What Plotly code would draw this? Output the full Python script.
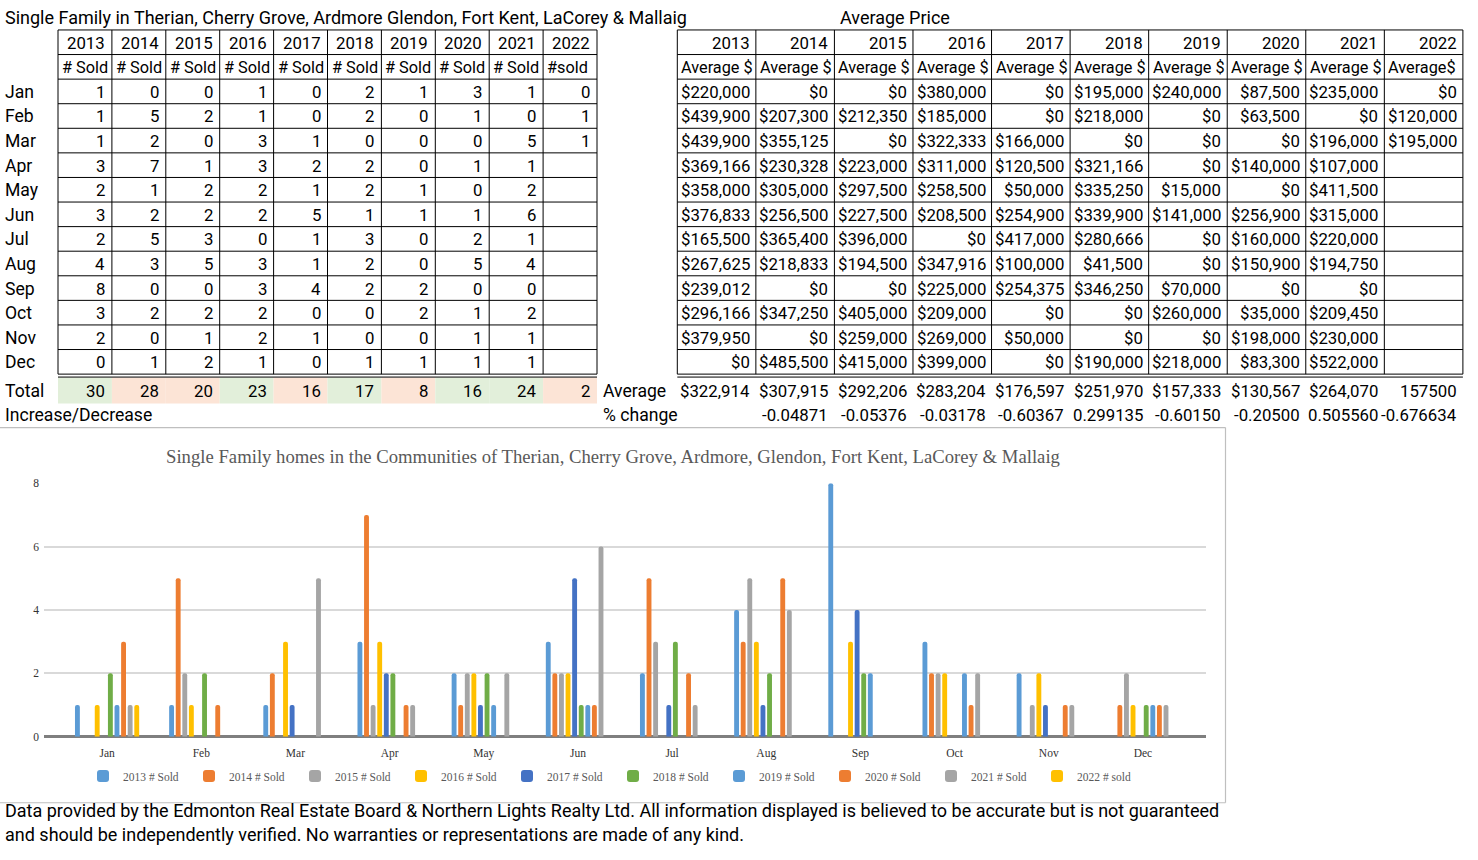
import plotly.graph_objects as go

W, H = 1478, 860

# ---------------- data ----------------
months = ["Jan", "Feb", "Mar", "Apr", "May", "Jun", "Jul", "Aug", "Sep", "Oct", "Nov", "Dec"]
years = ["2013", "2014", "2015", "2016", "2017", "2018", "2019", "2020", "2021", "2022"]

sold_2013 = [1, 1, 1, 3, 2, 3, 2, 4, 8, 3, 2, 0]
sold_2014 = [0, 5, 2, 7, 1, 2, 5, 3, 0, 2, 0, 1]
sold_2015 = [0, 2, 0, 1, 2, 2, 3, 5, 0, 2, 1, 2]
sold_2016 = [1, 1, 3, 3, 2, 2, 0, 3, 3, 2, 2, 1]
sold_2017 = [0, 0, 1, 2, 1, 5, 1, 1, 4, 0, 1, 0]
sold_2018 = [2, 2, 0, 2, 2, 1, 3, 2, 2, 0, 0, 1]
sold_2019 = [1, 0, 0, 0, 1, 1, 0, 0, 2, 2, 0, 1]
sold_2020 = [3, 1, 0, 1, 0, 1, 2, 5, 0, 1, 1, 1]
sold_2021 = [1, 0, 5, 1, 2, 6, 1, 4, 0, 2, 1, 1]
sold_2022 = [0, 1, 1, None, None, None, None, None, None, None, None, None]
# the 2022 series as it is drawn in the chart
chart_sold_2022 = [1, 0, 0, 0, 0, 0, 0, 0, 0, 0, 0, 0]

sold_headers = ["# Sold"] * 9 + ["#sold"]
sold_totals = [30, 28, 20, 23, 16, 17, 8, 16, 24, 2]

price_2013 = [220000, 439900, 439900, 369166, 358000, 376833, 165500, 267625, 239012, 296166, 379950, 0]
price_2014 = [0, 207300, 355125, 230328, 305000, 256500, 365400, 218833, 0, 347250, 0, 485500]
price_2015 = [0, 212350, 0, 223000, 297500, 227500, 396000, 194500, 0, 405000, 259000, 415000]
price_2016 = [380000, 185000, 322333, 311000, 258500, 208500, 0, 347916, 225000, 209000, 269000, 399000]
price_2017 = [0, 0, 166000, 120500, 50000, 254900, 417000, 100000, 254375, 0, 50000, 0]
price_2018 = [195000, 218000, 0, 321166, 335250, 339900, 280666, 41500, 346250, 0, 0, 190000]
price_2019 = [240000, 0, 0, 0, 15000, 141000, 0, 0, 70000, 260000, 0, 218000]
price_2020 = [87500, 63500, 0, 140000, 0, 256900, 160000, 150900, 0, 35000, 198000, 83300]
price_2021 = [235000, 0, 196000, 107000, 411500, 315000, 220000, 194750, 0, 209450, 230000, 522000]
price_2022 = [0, 120000, 195000, None, None, None, None, None, None, None, None, None]

price_headers = ["Average $"] * 9 + ["Average$"]
avg_price_text = ["$322,914", "$307,915", "$292,206", "$283,204", "$176,597",
                  "$251,970", "$157,333", "$130,567", "$264,070", "157500"]
pct_change_text = ["", "-0.04871", "-0.05376", "-0.03178", "-0.60367",
                   "0.299135", "-0.60150", "-0.20500", "0.505560", "-0.676634"]

series_names = ["2013 # Sold", "2014 # Sold", "2015 # Sold", "2016 # Sold", "2017 # Sold",
                "2018 # Sold", "2019 # Sold", "2020 # Sold", "2021 # Sold", "2022 # sold"]

sold_table = [sold_2013, sold_2014, sold_2015, sold_2016, sold_2017,
              sold_2018, sold_2019, sold_2020, sold_2021, sold_2022]
chart_sold = sold_table[:9] + [chart_sold_2022]
price_table = [price_2013, price_2014, price_2015, price_2016, price_2017,
               price_2018, price_2019, price_2020, price_2021, price_2022]

title_top = "Single Family in Therian, Cherry Grove, Ardmore Glendon, Fort Kent, LaCorey & Mallaig"
title_price = "Average Price"
chart_title = ("Single Family homes in the Communities of Therian, Cherry Grove, Ardmore, "
               "Glendon, Fort Kent, LaCorey & Mallaig")
footer_1 = ("Data provided by the Edmonton Real Estate Board & Northern Lights Realty Ltd. "
            "All information displayed is believed to be accurate but is not guaranteed")
footer_2 = "and should be independently verified. No warranties or representations are made of any kind."

# ---------------- style ----------------
colors = ["#5B9BD5", "#ED7D31", "#A5A5A5", "#FFC000", "#4472C4",
          "#70AD47", "#5B9BD5", "#ED7D31", "#A5A5A5", "#FFC000"]
TF = "Roboto, 'Liberation Sans', sans-serif"
SF = "'Liberation Serif', 'Times New Roman', serif"
FS = 16.8      # numbers in cells
FH = 16.3      # header words in cells
FL = 17.6      # row labels
FP = 18.0      # titles and footer

def X(px):
    return px / W

def Y(py):
    return 1 - py / H

annotations = []
shapes = []

def txt(x, y, s, anchor="right", size=FS, color="black", family=TF):
    annotations.append(dict(x=X(x), y=Y(y), xref="paper", yref="paper", text=s,
                            showarrow=False, xanchor=anchor, yanchor="middle",
                            font=dict(family=family, size=size, color=color)))

def line(x0, y0, x1, y1, color="black", width=1):
    shapes.append(dict(type="line", xref="paper", yref="paper",
                       x0=X(x0), y0=Y(y0), x1=X(x1), y1=Y(y1),
                       line=dict(color=color, width=width)))

def rect(x0, y0, x1, y1, fill):
    shapes.append(dict(type="rect", xref="paper", yref="paper", layer="below",
                       x0=X(x0), y0=Y(y0), x1=X(x1), y1=Y(y1),
                       fillcolor=fill, line=dict(width=0)))

# table geometry
ROW0, ROWH = 24.3, 24.93
NROWS = 14
LX0, LCW = 58.0, 53.9
RX0, RCW = 677.3, 78.56
row_c = lambda i: ROW0 + ROWH * (i + 0.5) + 0.5
tab_bottom = ROW0 + ROWH * NROWS
total_y = 390.0
change_y = 415.0

# titles
txt(3, 12, title_top, anchor="left", size=FP)
txt(838, 12, title_price, anchor="left", size=FP)

# ---- grid lines of both tables
for i in range(NROWS + 1):
    y = ROW0 + ROWH * i
    line(LX0, y, LX0 + LCW * 10, y)
    line(RX0, y, RX0 + RCW * 10, y)
line(LX0, tab_bottom + 3, LX0 + LCW * 10, tab_bottom + 3)
line(RX0, tab_bottom + 3, RX0 + RCW * 10, tab_bottom + 3)
for j in range(11):
    line(LX0 + LCW * j, ROW0, LX0 + LCW * j, tab_bottom)
    line(RX0 + RCW * j, ROW0, RX0 + RCW * j, tab_bottom)

# ---- left table (number sold)
for j, yr in enumerate(years):
    right = LX0 + LCW * (j + 1) - 5
    txt(right, row_c(0), yr)
    txt(LX0 + LCW * j + 2, row_c(1), sold_headers[j], anchor="left", size=FH)
    for m in range(12):
        v = sold_table[j][m]
        if v is not None:
            txt(right, row_c(m + 2), str(v))
    prev = sold_totals[j - 1] if j > 0 else None
    fill = "#E2EFDA" if (prev is None or sold_totals[j] >= prev) else "#FCE4D6"
    rect(LX0 + LCW * j, tab_bottom + 3.5, LX0 + LCW * (j + 1), 403, fill)
    txt(right, total_y, str(sold_totals[j]))

for m, mo in enumerate(months):
    txt(3, row_c(m + 2), mo, anchor="left", size=FL)
txt(3, total_y, "Total", anchor="left", size=FL)
txt(3, change_y, "Increase/Decrease", anchor="left", size=FL)

# ---- right table (average price)
for j, yr in enumerate(years):
    right = RX0 + RCW * (j + 1) - 4
    txt(right, row_c(0), yr)
    txt(RX0 + RCW * j + 2, row_c(1), price_headers[j], anchor="left", size=FH)
    for m in range(12):
        v = price_table[j][m]
        if v is not None:
            txt(right, row_c(m + 2), "${:,.0f}".format(v))
    txt(right, total_y, avg_price_text[j])
    if pct_change_text[j]:
        txt(right, change_y, pct_change_text[j])
txt(601, total_y, "Average", anchor="left", size=FL)
txt(601, change_y, "% change", anchor="left", size=FL)

# ---- chart frame
line(0, 427.5, 1225.5, 427.5, color="#BFBFBF", width=1.2)
line(1225.5, 427.5, 1225.5, 808, color="#BFBFBF", width=1.2)
line(0, 808, 1225.5, 808, color="#BFBFBF", width=1.2)

# footer
txt(3, 816, footer_1, anchor="left", size=FP)
txt(3, 840, footer_2, anchor="left", size=FP)

# ---------------- chart ----------------
fig = go.Figure()
for name, vals, col in zip(series_names, chart_sold, colors):
    fig.add_trace(go.Bar(x=months, y=vals, name=name, marker=dict(color=col, line=dict(width=0))))

slot = (1206 - 44) / 12.34
pad = 16 / slot

fig.update_layout(
    width=W, height=H,
    margin=dict(l=0, r=0, t=0, b=0),
    paper_bgcolor="white", plot_bgcolor="white",
    barmode="group", bargap=0.30, bargroupgap=0.26,
    barcornerradius=2,
    showlegend=True,
    title=dict(text=chart_title, x=X(613), xanchor="center", y=Y(456), yanchor="middle",
               font=dict(family=SF, size=18.7, color="#595959")),
    xaxis=dict(domain=[X(44), X(1206)], range=[-0.5 - pad, 11.5 + pad],
               showgrid=False, zeroline=False, showline=False,
               ticks="outside", ticklen=6, tickcolor="rgba(0,0,0,0)",
               tickfont=dict(family=SF, size=11.5, color="#333333")),
    yaxis=dict(domain=[Y(741), Y(484)], range=[0, 8], tickvals=[0, 2, 4, 6, 8],
               showgrid=True, gridcolor="#D9D9D9", gridwidth=1.5,
               zeroline=True, zerolinecolor="#7F7F7F", zerolinewidth=2.5,
               showline=False, ticks="", ticklabelstandoff=4,
               tickfont=dict(family=SF, size=11.5, color="#333333")),
    legend=dict(orientation="h", x=X(613), xanchor="center", y=Y(781), yanchor="middle",
                font=dict(family=SF, size=11.5, color="#595959"),
                entrywidth=61, entrywidthmode="pixels", itemsizing="constant",
                traceorder="normal", bgcolor="rgba(0,0,0,0)"),
    annotations=annotations,
    shapes=shapes,
)

fig.write_html("out.html", config={"displayModeBar": False},
               post_script="document.body.style.margin='0';document.body.style.overflow='hidden';")
